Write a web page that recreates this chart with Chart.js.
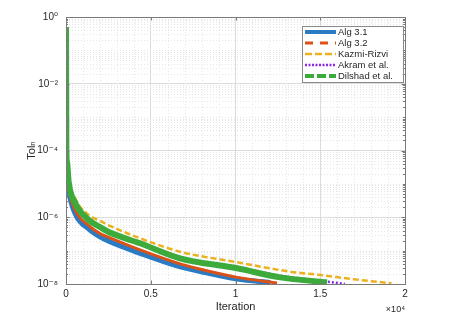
<!DOCTYPE html>
<html>
<head>
<meta charset="utf-8">
<title>Tol_n vs Iteration</title>
<script src="https://cdn.jsdelivr.net/npm/chart.js@4.4.0/dist/chart.umd.min.js"></script>
<style>
    html, body { margin: 0; padding: 0; background: #ffffff; }
</style>
</head>
<body>
<canvas id="tolChart" width="453" height="321"></canvas>
<script>

// ======================================================
// DATA
// ======================================================

const seriesLabels = ["Alg 3.1", "Alg 3.2", "Kazmi-Rizvi", "Akram et al.", "Dilshad et al."];

const alg31Iter = [0, 20, 60, 160, 550, 1340, 2007, 2520, 4370, 6500, 8200, 10100, 12050];
const alg31Tol  = [0.5, 5.0e-5, 2.04e-5, 6.3e-6, 1.26e-6, 4.47e-7, 2.57e-7, 1.9e-7, 8.3e-8, 3.55e-8, 2.19e-8, 1.41e-8, 1.1e-8];

const alg32Iter = [0, 20, 60, 160, 550, 1340, 2007, 2520, 4370, 6730, 8300, 10100, 12450];
const alg32Tol  = [0.5, 7.1e-5, 3.16e-5, 7.9e-6, 1.62e-6, 5.6e-7, 3.24e-7, 2.5e-7, 1.05e-7, 4.0e-8, 2.5e-8, 1.58e-8, 1.07e-8];

const kazmiIter = [0, 20, 60, 160, 550, 1340, 2007, 2520, 4370, 6730, 10100, 13220, 15000, 17000, 19200];
const kazmiTol  = [0.5, 1.41e-4, 6.3e-5, 1.58e-5, 3.7e-6, 1.17e-6, 7.8e-7, 5.75e-7, 2.34e-7, 9.3e-8, 4.47e-8, 2.34e-8, 1.86e-8, 1.38e-8, 1.05e-8];

const akramIter = [0, 20, 60, 160, 550, 1340, 2007, 2520, 4370, 6730, 10100, 12630, 15400, 16450];
const akramTol  = [0.5, 1.0e-4, 4.5e-5, 1.12e-5, 2.63e-6, 8.5e-7, 5.4e-7, 3.8e-7, 1.74e-7, 6.3e-8, 3.16e-8, 1.78e-8, 1.17e-8, 1.0e-8];

const dilshadIter = [0, 20, 60, 160, 550, 1340, 2007, 2520, 4370, 6730, 10100, 12630, 15400];
const dilshadTol  = [0.5, 1.0e-4, 4.5e-5, 1.12e-5, 2.63e-6, 8.3e-7, 5.1e-7, 3.6e-7, 1.66e-7, 5.9e-8, 2.95e-8, 1.58e-8, 1.12e-8];

const xTickValues = [0, 5000, 10000, 15000, 20000];
const yTickValues = [1e-8, 1e-6, 1e-4, 1e-2, 1];

// ======================================================
// HELPERS
// ======================================================

const SUP = { "-": "\u207B", "0": "\u2070", "1": "\u00B9", "2": "\u00B2", "3": "\u00B3",
              "4": "\u2074", "5": "\u2075", "6": "\u2076", "7": "\u2077", "8": "\u2078", "9": "\u2079" };

function superscript(str) {
    return String(str).split("").map(c => SUP[c] || c).join("");
}

function toPoints(iters, tols) {
    return iters.map((it, i) => ({ x: it, y: tols[i] }));
}

const FONT = "'Liberation Sans', Arial, 'DejaVu Sans', sans-serif";
const TEXT = "#262626";
const AXIS = "#7a7a7a";

// ======================================================
// MATLAB STYLE AXES PLUGIN (minor grid, box, ticks, legend)
// ======================================================

const matlabAxes = {

    id: "matlabAxes",

    beforeDatasetsDraw(chart) {

        const { ctx, chartArea: a, scales: { x, y } } = chart;

        ctx.save();
        ctx.strokeStyle = "#e6e6e6";
        ctx.lineWidth = 1;
        ctx.setLineDash([1, 2]);

        // vertical minor grid
        for (let v = 1000; v < 20000; v += 1000) {
            if (v % 5000 === 0) continue;
            const px = Math.round(x.getPixelForValue(v)) + 0.5;
            ctx.beginPath();
            ctx.moveTo(px, a.top);
            ctx.lineTo(px, a.bottom);
            ctx.stroke();
        }

        // horizontal minor grid (log)
        for (let e = -8; e < 0; e++) {
            for (let k = 1; k <= 9; k++) {
                if (k === 1 && e % 2 === 0) continue;
                const py = Math.round(y.getPixelForValue(k * Math.pow(10, e))) + 0.5;
                ctx.beginPath();
                ctx.moveTo(a.left, py);
                ctx.lineTo(a.right, py);
                ctx.stroke();
            }
        }

        ctx.restore();

    },

    afterDatasetsDraw(chart) {

        const { ctx, chartArea: a, scales: { x, y } } = chart;

        ctx.save();
        ctx.setLineDash([]);
        ctx.strokeStyle = AXIS;
        ctx.lineWidth = 1;

        // box
        ctx.strokeRect(Math.round(a.left) + 0.5, Math.round(a.top) + 0.5,
                       Math.round(a.right - a.left), Math.round(a.bottom - a.top));

        // x ticks (inward, bottom and top)
        xTickValues.forEach(v => {
            const px = Math.round(x.getPixelForValue(v)) + 0.5;
            ctx.beginPath();
            ctx.moveTo(px, a.bottom); ctx.lineTo(px, a.bottom - 3.5);
            ctx.moveTo(px, a.top); ctx.lineTo(px, a.top + 3.5);
            ctx.stroke();
        });

        // y ticks, major and minor
        for (let e = -8; e <= 0; e++) {
            for (let k = 1; k <= 9; k++) {
                if (e === 0 && k > 1) break;
                const major = (k === 1 && e % 2 === 0);
                const len = major ? 3.5 : 2;
                const py = Math.round(y.getPixelForValue(k * Math.pow(10, e))) + 0.5;
                ctx.beginPath();
                ctx.moveTo(a.left, py); ctx.lineTo(a.left + len, py);
                ctx.moveTo(a.right, py); ctx.lineTo(a.right - len, py);
                ctx.stroke();
            }
        }

        // exponent note for the x axis
        ctx.fillStyle = TEXT;
        ctx.font = "9px " + FONT;
        ctx.textAlign = "right";
        ctx.textBaseline = "alphabetic";
        ctx.fillText("\u00D710" + superscript(4), a.right, 312);

        // legend
        const lx = 302, ly = 26, lw = 101, lh = 56;
        ctx.fillStyle = "#ffffff";
        ctx.fillRect(lx, ly, lw, lh);
        ctx.strokeStyle = "#8a8a8a";
        ctx.strokeRect(lx + 0.5, ly + 0.5, lw, lh);

        ctx.font = "9.5px " + FONT;
        ctx.textAlign = "left";
        ctx.textBaseline = "middle";

        chart.data.datasets.forEach((ds, i) => {
            const cy = ly + 6 + i * 11;
            ctx.strokeStyle = ds.borderColor;
            ctx.lineWidth = Math.min(ds.borderWidth, 4);
            ctx.setLineDash(ds.legendDash || []);
            ctx.beginPath();
            ctx.moveTo(lx + 3, cy);
            ctx.lineTo(lx + 34, cy);
            ctx.stroke();
            ctx.setLineDash([]);
            ctx.fillStyle = TEXT;
            ctx.fillText(ds.label, lx + 36, cy + 0.5);
        });

        ctx.restore();

    }

};

// ======================================================
// CHART
// ======================================================

const seriesIters = [alg31Iter, alg32Iter, kazmiIter, akramIter, dilshadIter];
const seriesTols = [alg31Tol, alg32Tol, kazmiTol, akramTol, dilshadTol];
const seriesColors = ["#2a7bc4", "#d95319", "#edb120", "#8a2be2", "#3cab3c"];
const seriesWidths = [5, 3, 2.5, 2.5, 6];
const seriesDash = [[], [], [6, 3], [2, 2], []];
const legendDash = [[], [8, 7], [7, 3], [2, 1.5], [9, 3]];
const seriesOrder = [5, 4, 3, 2, 1];

const tolChart = new Chart(document.getElementById("tolChart"), {

    type: "line",

    data: {
        datasets: seriesLabels.map((label, i) => ({
            label: label,
            data: toPoints(seriesIters[i], seriesTols[i]),
            borderColor: seriesColors[i],
            backgroundColor: seriesColors[i],
            borderWidth: seriesWidths[i],
            borderDash: seriesDash[i],
            legendDash: legendDash[i],
            order: seriesOrder[i],
            pointRadius: 0,
            fill: false,
            cubicInterpolationMode: "monotone"
        }))
    },

    options: {
        responsive: false,
        animation: false,
        layout: { padding: { top: 17, right: 48, bottom: 0, left: 0 } },
        plugins: {
            legend: { display: false },
            tooltip: { enabled: false }
        },
        scales: {
            x: {
                type: "linear",
                min: 0,
                max: 20000,
                afterFit: s => { s.height = 37; },
                afterBuildTicks: s => { s.ticks = xTickValues.map(v => ({ value: v })); },
                grid: { color: "#dcdcdc", drawTicks: false },
                border: { display: false },
                ticks: {
                    padding: 4,
                    color: TEXT,
                    font: { family: FONT, size: 10 },
                    maxRotation: 0,
                    callback: v => String(v / 10000)
                },
                title: {
                    display: true,
                    text: "Iteration",
                    color: TEXT,
                    font: { family: FONT, size: 11 },
                    padding: { top: 0, bottom: 7 }
                }
            },
            y: {
                type: "logarithmic",
                min: 1e-8,
                max: 1,
                afterFit: s => { s.width = 66; },
                afterBuildTicks: s => { s.ticks = yTickValues.map(v => ({ value: v })); },
                grid: { color: "#dcdcdc", drawTicks: false },
                border: { display: false },
                ticks: {
                    padding: 8,
                    color: TEXT,
                    font: { family: FONT, size: 10 },
                    callback: v => "10" + superscript(Math.round(Math.log10(v)))
                },
                title: {
                    display: true,
                    text: "Tol\u2099",
                    color: TEXT,
                    font: { family: FONT, size: 11 },
                    padding: { top: 25, bottom: 0 }
                }
            }
        }
    },

    plugins: [matlabAxes]

});

</script>
</body>
</html>
